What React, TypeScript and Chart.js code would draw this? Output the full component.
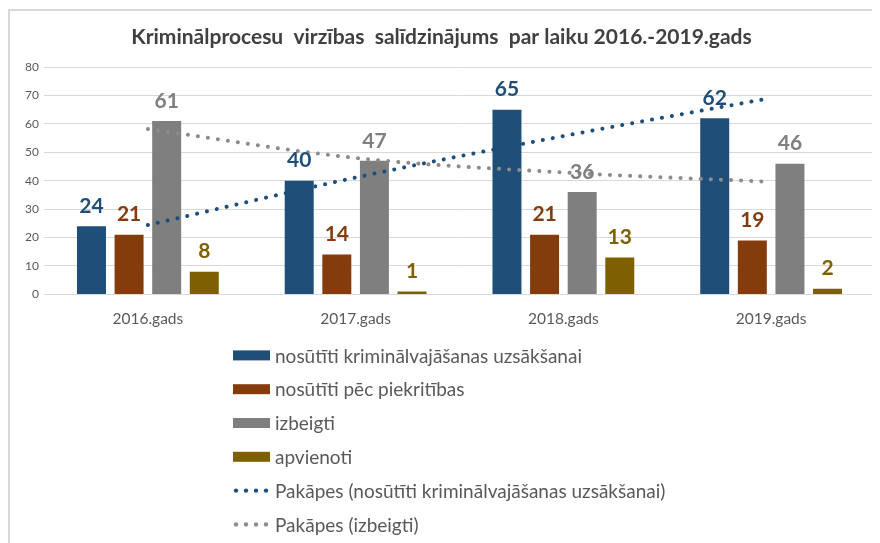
import React, { useEffect, useRef } from "react";
import { Chart, registerables } from "chart.js";

Chart.register(...registerables);

const titleText = "Kriminālprocesu  virzības  salīdzinājums  par laiku 2016.-2019.gads";
const categories = ["2016.gads", "2017.gads", "2018.gads", "2019.gads"];
const seriesNames = [
  "nosūtīti kriminālvajāšanas uzsākšanai",
  "nosūtīti pēc piekritības",
  "izbeigti",
  "apvienoti",
  "Pakāpes (nosūtīti kriminālvajāšanas uzsākšanai)",
  "Pakāpes (izbeigti)",
];
const sentToProsecution = [24, 40, 65, 62];
const sentByJurisdiction = [21, 14, 21, 19];
const terminated = [61, 47, 36, 46];
const merged = [8, 1, 13, 2];
const trendProsecution = [24.4, 41.1, 55.7, 69.1];
const trendTerminated = [58.2, 48.0, 42.9, 39.6];
const yMin = 0;
const yMax = 80;
const yStep = 10;

const COLORS = ["#1F4E79", "#843C0C", "#7F7F7F", "#7F6000", "#1F4E79", "#8C8C8C"];
const FONT = "Lato, 'Open Sans', sans-serif";

const dataLabelsPlugin = {
  id: "barLabels",
  afterDatasetsDraw(chart: any) {
    const ctx = chart.ctx;
    ctx.save();
    ctx.font = `bold 21px ${FONT}`;
    ctx.textAlign = "center";
    ctx.textBaseline = "middle";
    chart.data.datasets.forEach((ds: any, di: number) => {
      if (ds.type !== "bar") return;
      const meta = chart.getDatasetMeta(di);
      ctx.fillStyle = ds.backgroundColor;
      meta.data.forEach((el: any, i: number) => {
        ctx.fillText(String(ds.data[i]), el.x, el.y - 20);
      });
    });
    ctx.restore();
  },
};

const legendPlugin = {
  id: "vertLegend",
  afterDraw(chart: any) {
    const ctx = chart.ctx;
    const top = chart.chartArea.bottom + 61;
    const left = 225;
    const spacing = 33.8;
    ctx.save();
    ctx.font = `19px ${FONT}`;
    ctx.textBaseline = "middle";
    ctx.textAlign = "left";
    chart.data.datasets.forEach((ds: any, i: number) => {
      const y = top + i * spacing;
      if (ds.type === "bar") {
        ctx.fillStyle = ds.backgroundColor;
        ctx.fillRect(left, y - 5, 37, 10);
      } else {
        ctx.fillStyle = ds.borderColor;
        for (let k = 0; k < 4; k++) {
          ctx.beginPath();
          ctx.arc(left + 3 + k * 10, y, 2.2, 0, Math.PI * 2);
          ctx.fill();
        }
      }
      ctx.fillStyle = "#595959";
      ctx.fillText(ds.label, left + 42, y + 1);
    });
    ctx.restore();
  },
};

export default function App() {
  const ref = useRef<HTMLCanvasElement>(null);
  useEffect(() => {
    if (!ref.current) return;
    const barSets = [sentToProsecution, sentByJurisdiction, terminated, merged].map((d, i) => ({
      type: "bar" as const,
      label: seriesNames[i],
      data: d,
      backgroundColor: COLORS[i],
      borderWidth: 0,
      categoryPercentage: 0.724,
      barPercentage: 0.771,
      order: 2,
    }));
    const lineSets = [trendProsecution, trendTerminated].map((d, i) => ({
      type: "line" as const,
      label: seriesNames[4 + i],
      data: d,
      borderColor: COLORS[4 + i],
      backgroundColor: COLORS[4 + i],
      borderWidth: 4,
      borderDash: [0.1, 10],
      borderCapStyle: "round" as const,
      pointRadius: 0,
      cubicInterpolationMode: "monotone" as const,
      fill: false,
      order: 1,
    }));
    const chart = new Chart(ref.current, {
      type: "bar",
      data: { labels: categories, datasets: [...barSets, ...lineSets] as any },
      options: {
        responsive: false,
        animation: false,
        devicePixelRatio: 1,
        layout: { padding: { top: 0, right: 5, bottom: 200, left: 0 } },
        plugins: {
          legend: { display: false },
          tooltip: { enabled: false },
          title: {
            display: true,
            text: titleText,
            color: "#404040",
            font: { family: FONT, size: 21, weight: "bold", lineHeight: 1.2 },
            padding: { top: 17, bottom: 16.8 },
          },
        },
        scales: {
          x: {
            grid: { display: false, drawTicks: false },
            border: { display: true, color: "#D9D9D9", width: 1 },
            ticks: { color: "#595959", font: { family: FONT, size: 15.5 }, padding: 15 },
          },
          y: {
            min: yMin,
            max: yMax,
            afterFit: (s: any) => {
              s.width = 36;
            },
            grid: { color: "#D9D9D9", lineWidth: 1, drawTicks: false },
            border: { display: false },
            ticks: {
              stepSize: yStep,
              color: "#595959",
              font: { family: FONT, size: 12 },
              padding: 5,
            },
          },
        },
      },
      plugins: [dataLabelsPlugin, legendPlugin],
    });
    return () => chart.destroy();
  }, []);
  return (
    <div style={{ position: "relative", width: 872, height: 535 }}>
      <canvas ref={ref} width={872} height={535} style={{ position: "absolute", left: 0, top: 0 }} />
      <div
        style={{
          position: "absolute",
          left: 0,
          top: 1,
          width: 872,
          height: 534,
          boxSizing: "border-box",
          borderTop: "2px solid #D9D9D9",
          borderLeft: "2px solid #D9D9D9",
          pointerEvents: "none",
        }}
      />
    </div>
  );
}
